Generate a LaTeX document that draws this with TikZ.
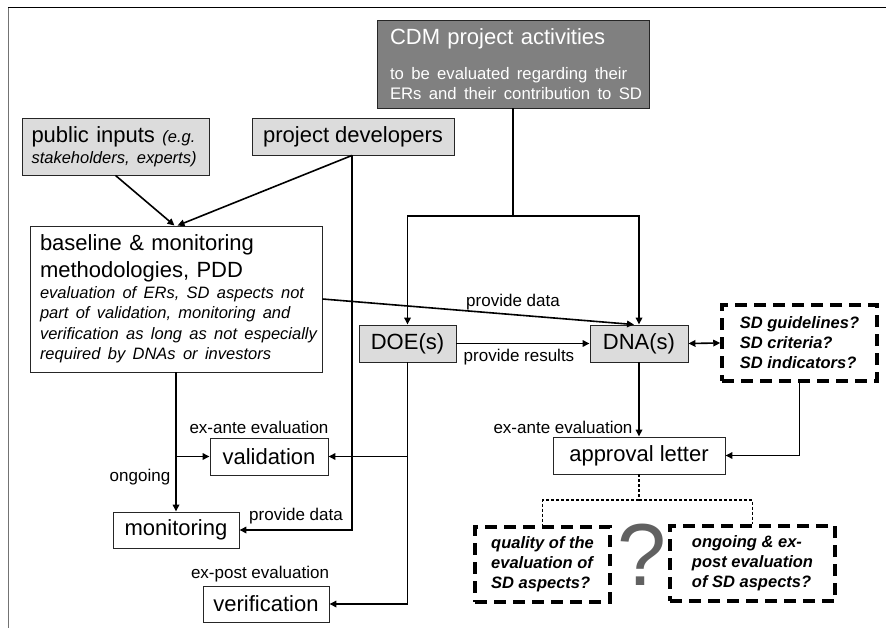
\documentclass[tikz,border=0pt]{standalone}
\usepackage{fontspec}
\setmainfont{Liberation Sans}
\usetikzlibrary{arrows.meta}
\newcommand{\bigf}{\fontsize{22}{27}\selectfont}
\newcommand{\smf}{\fontsize{17}{20}\selectfont}
\newcommand{\itf}{\fontsize{16.5}{20}\selectfont}
\definecolor{lgray}{HTML}{DCDCDC}
\definecolor{dgray}{HTML}{808080}
\begin{document}
\begin{tikzpicture}[x=1pt,y=-1pt,
  box/.style={draw=black!85, line width=0.9pt, inner sep=0pt, font=\bigf},
  gbox/.style={box, fill=lgray},
  qbox/.style={draw=black, line width=3.5pt, dash pattern=on 12pt off 7pt, inner sep=0pt, align=left, font=\itf\bfseries\itshape},
  conn/.style={line width=1.6pt, -{Triangle[length=7pt,width=6.5pt]}},
  plain/.style={line width=1.6pt},
  dots/.style={line width=1.2pt, dash pattern=on 3pt off 2pt},
  lab/.style={font=\smf, inner sep=0pt}]
\useasboundingbox (0,0) rectangle (886,628);
\fill[white] (0,0) rectangle (886,628);
\draw[black, line width=1pt] (8,8) -- (886,8);
\draw[black!55, line width=1pt] (8,8) -- (8,628);

\node[box, fill=dgray, text=white, minimum width=272pt, minimum height=88pt, text width=246pt, align=left] (cdm) at (513,64)
  {{\fontsize{22}{26}\selectfont CDM project activities\par}\vspace{15pt}{\fontsize{16.7}{20}\selectfont \mbox{to be evaluated regarding their}\\ \mbox{ERs and their contribution to SD}\par}};
\node[gbox, minimum width=187pt, minimum height=57pt, text width=168pt, align=left] (pub) at (115.5,146.5)
  {{\bigf \mbox{public inputs {\fontsize{16.5}{20}\selectfont\itshape (e.g.}}\par}{\fontsize{16.5}{21}\selectfont\itshape \mbox{stakeholders, experts)}\par}};
\node[gbox, minimum width=202pt, minimum height=37pt] (dev) at (353,136.5) {project developers};
\node[box, minimum width=292pt, minimum height=146pt, text width=272pt, align=left] (base) at (176,299)
  {{\fontsize{22}{27}\selectfont \mbox{baseline \& monitoring}\\ \mbox{methodologies, PDD}\par}{\fontsize{16.5}{20.5}\selectfont\itshape \mbox{evaluation of ERs, SD aspects not}\\ \mbox{part of validation, monitoring and}\\ \mbox{verification as long as not especially}\\ \mbox{required by DNAs or investors}\par}};
\node[gbox, minimum width=97pt, minimum height=37pt] (doe) at (407.5,343.5) {DOE(s)};
\node[gbox, minimum width=98pt, minimum height=37pt] (dna) at (639,343.5) {DNA(s)};
\node[qbox, minimum width=155pt, minimum height=76pt] (sd) at (799.5,343) {SD guidelines?\\SD criteria?\\SD indicators?};
\node[box, minimum width=172pt, minimum height=37pt] (appr) at (639,455.5) {approval letter};
\node[box, minimum width=118pt, minimum height=37pt] (val) at (269,456.5) {validation};
\node[box, minimum width=126pt, minimum height=36pt] (mon) at (176,530) {monitoring};
\node[box, minimum width=126pt, minimum height=36pt] (ver) at (266,604) {verification};
\node[qbox, minimum width=135pt, minimum height=75pt] (qual) at (542.5,564.5) {quality of the\\evaluation of\\SD aspects?};
\node[qbox, minimum width=165pt, minimum height=75pt] (ong) at (752.5,563.5) {ongoing \& ex-\\post evaluation\\of SD aspects?};
\node[text=black!62, font=\fontsize{88}{88}\selectfont, inner sep=0pt] (qm) at (642,555) {?};

% connectors
\draw[conn] (pub.south) -- ([xshift=-1.5pt]base.north);
\draw[conn] ([xshift=-1pt]dev.south) -- ([xshift=1.5pt]base.north);
\draw[conn] ([xshift=-1pt]dev.south) |- (mon.east);
\coordinate (cj) at (513,216);
\draw[plain] (cdm.south) -- (cj);
\draw[conn] (cj) -| (doe.north);
\draw[conn] (cj) -| (dna.north);
\draw[conn] (base.east) -- ([xshift=-5pt]dna.north);
\draw[conn] (doe.east) -- (dna.west);
\draw[line width=1.6pt, {Triangle[length=7pt,width=6.5pt]}-{Triangle[length=7pt,width=6.5pt]}] (dna.east) -- (sd.west);
\draw[conn] (sd.south) |- (appr.east);
\draw[conn] (dna.south) -- (appr.north);
\coordinate (dj) at (639,500);
\draw[dots] (appr.south) -- (dj);
\draw[dots] (dj) -| (qual.north);
\draw[dots] (dj) -| (ong.north);
\draw[conn] (base.south) -- (mon.north);
\draw[conn] (base.south |- val.west) -- (val.west);
\draw[conn] (doe.south) |- (ver.east);
\draw[conn] (doe.south |- val.east) -- (val.east);

% labels
\node[lab] (l1) at (259,427) {ex-ante evaluation};
\node[lab] (l2) at (140,477) {ongoing};
\node[lab] (l3) at (296,516) {provide data};
\node[lab] (l4) at (260,574) {ex-post evaluation};
\node[lab] (l5) at (563,427) {ex-ante evaluation};
\node[lab] (l6) at (513,302) {provide data};
\node[lab] (l7) at (519,357) {provide results};
\end{tikzpicture}
\end{document}
